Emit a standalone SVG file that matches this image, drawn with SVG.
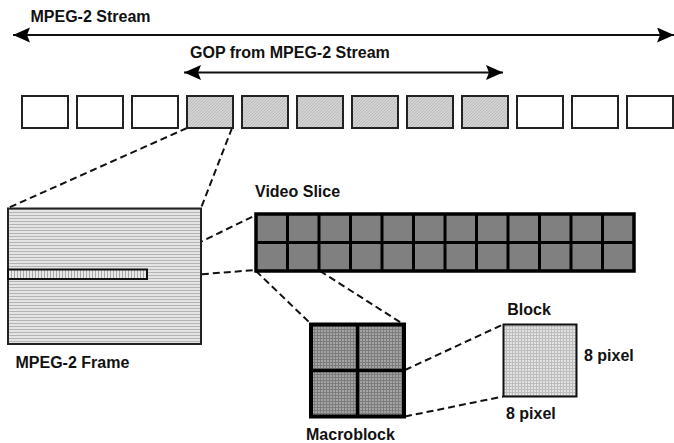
<svg xmlns="http://www.w3.org/2000/svg" width="674" height="443" viewBox="0 0 674 443">
<style>
  text { font-family: "Liberation Sans", Arial, sans-serif; font-weight: bold; font-size: 16px; fill: #111; }
  .arrow { stroke: #111; stroke-width: 2; fill: none; }
  .dash { stroke: #111; stroke-width: 2; fill: none; stroke-dasharray: 7 4; }
  .frm { stroke: #222; stroke-width: 2; }
  .frm-w { fill: #fff; }
  .frm-g { fill: url(#hatch); }
  .cell { fill: #808080; }
  .gridline { stroke: #000; stroke-width: 3; fill: none; }
</style>
<defs>
  <marker id="ah" markerUnits="userSpaceOnUse" markerWidth="18" markerHeight="16" refX="17" refY="7.5" orient="auto-start-reverse" viewBox="0 0 18 16">
    <path d="M0,0 L17,7.5 L0,15 L3,7.5 z" fill="#000"/>
  </marker>
  <pattern id="hatch" patternUnits="userSpaceOnUse" width="3" height="3">
    <rect width="3" height="3" fill="#d2d2d2"/>
    <path d="M0,3 L3,0" stroke="#b8b8b8" stroke-width="0.8"/>
  </pattern>
  <pattern id="hlines" patternUnits="userSpaceOnUse" width="4" height="3">
    <rect width="4" height="3" fill="#e4e4e4"/>
    <rect y="2" width="4" height="1" fill="#b4b4b4"/>
  </pattern>
  <pattern id="vlines" patternUnits="userSpaceOnUse" width="3" height="4">
    <rect width="3" height="4" fill="#e8e8e8"/>
    <rect x="2" width="1" height="4" fill="#a8a8a8"/>
  </pattern>
  <pattern id="mesh" patternUnits="userSpaceOnUse" width="3" height="3">
    <rect width="3" height="3" fill="#a4a4a4"/>
    <path d="M0,2.5 H3 M2.5,0 V3" stroke="#7c7c7c" stroke-width="1"/>
  </pattern>
  <pattern id="mesh2" patternUnits="userSpaceOnUse" width="3" height="3">
    <rect width="3" height="3" fill="#e2e2e2"/>
    <path d="M0,2.5 H3 M2.5,0 V3" stroke="#bdbdbd" stroke-width="1"/>
  </pattern>
</defs>
<rect width="674" height="443" fill="#fff"/>

<g id="connectors">
  <line class="arrow" x1="13" y1="35" x2="674" y2="35" marker-start="url(#ah)" marker-end="url(#ah)"/>
  <line class="arrow" x1="184" y1="72.5" x2="503" y2="72.5" marker-start="url(#ah)" marker-end="url(#ah)"/>
  <line class="dash" x1="187" y1="128" x2="8" y2="208"/>
  <line class="dash" x1="232" y1="128" x2="201" y2="208"/>
  <line class="dash" x1="147" y1="268" x2="256" y2="215"/>
  <line class="dash" x1="147" y1="278.5" x2="256" y2="270"/>
  <line class="dash" x1="256" y1="271" x2="311" y2="324"/>
  <line class="dash" x1="320" y1="271" x2="403" y2="324"/>
  <line class="dash" x1="405" y1="370" x2="503" y2="324.5"/>
  <line class="dash" x1="405" y1="416.5" x2="503" y2="396.5"/>
</g>

<g id="stream-label"><text x="30.5" y="21.5">MPEG-2 Stream</text></g>
<g id="gop-label"><text x="190" y="58.3">GOP from MPEG-2 Stream</text></g>

<g id="frames">
  <g id="frame1"><rect class="frm frm-w" x="22" y="96" width="46" height="32"/></g>
  <g id="frame2"><rect class="frm frm-w" x="77" y="96" width="46" height="32"/></g>
  <g id="frame3"><rect class="frm frm-w" x="132" y="96" width="46" height="32"/></g>
  <g id="frame4"><rect class="frm frm-g" x="187" y="96" width="46" height="32"/></g>
  <g id="frame5"><rect class="frm frm-g" x="242" y="96" width="46" height="32"/></g>
  <g id="frame6"><rect class="frm frm-g" x="297" y="96" width="46" height="32"/></g>
  <g id="frame7"><rect class="frm frm-g" x="352" y="96" width="46" height="32"/></g>
  <g id="frame8"><rect class="frm frm-g" x="407" y="96" width="46" height="32"/></g>
  <g id="frame9"><rect class="frm frm-g" x="462" y="96" width="46" height="32"/></g>
  <g id="frame10"><rect class="frm frm-w" x="517" y="96" width="46" height="32"/></g>
  <g id="frame11"><rect class="frm frm-w" x="572" y="96" width="46" height="32"/></g>
  <g id="frame12"><rect class="frm frm-w" x="627" y="96" width="46" height="32"/></g>
</g>

<g id="mpeg2-frame">
  <rect x="8" y="208.5" width="193" height="135.5" fill="url(#hlines)" stroke="#222" stroke-width="2"/>
  <rect x="8" y="269.5" width="139" height="9.5" fill="url(#vlines)" stroke="#111" stroke-width="2"/>
  <text x="15.5" y="368.3">MPEG-2 Frame</text>
</g>

<g id="video-slice">
  <text x="255" y="197.3">Video Slice</text>
  <rect class="cell" x="256" y="214" width="378" height="57"/>
  <path class="gridline" d="M287.5,214 V271 M319,214 V271 M350.5,214 V271 M382,214 V271 M413.5,214 V271 M445,214 V271 M476.5,214 V271 M508,214 V271 M539.5,214 V271 M571,214 V271 M602.5,214 V271 M256,242.5 H634"/>
  <rect x="256" y="214" width="378" height="57" fill="none" stroke="#000" stroke-width="3.5"/>
</g>

<g id="macroblock">
  <rect x="311" y="324.5" width="93" height="92" fill="url(#mesh)" stroke="#000" stroke-width="4"/>
  <path d="M357.5,324.5 V416.5 M311,370.5 H404" stroke="#000" stroke-width="3.5"/>
  <text x="306" y="440">Macroblock</text>
</g>

<g id="block">
  <text x="507.3" y="315">Block</text>
  <rect x="503.5" y="324.5" width="73" height="72" fill="url(#mesh2)" stroke="#111" stroke-width="2"/>
  <text x="584" y="361">8 pixel</text>
  <text x="506" y="419.3">8 pixel</text>
</g>
</svg>
